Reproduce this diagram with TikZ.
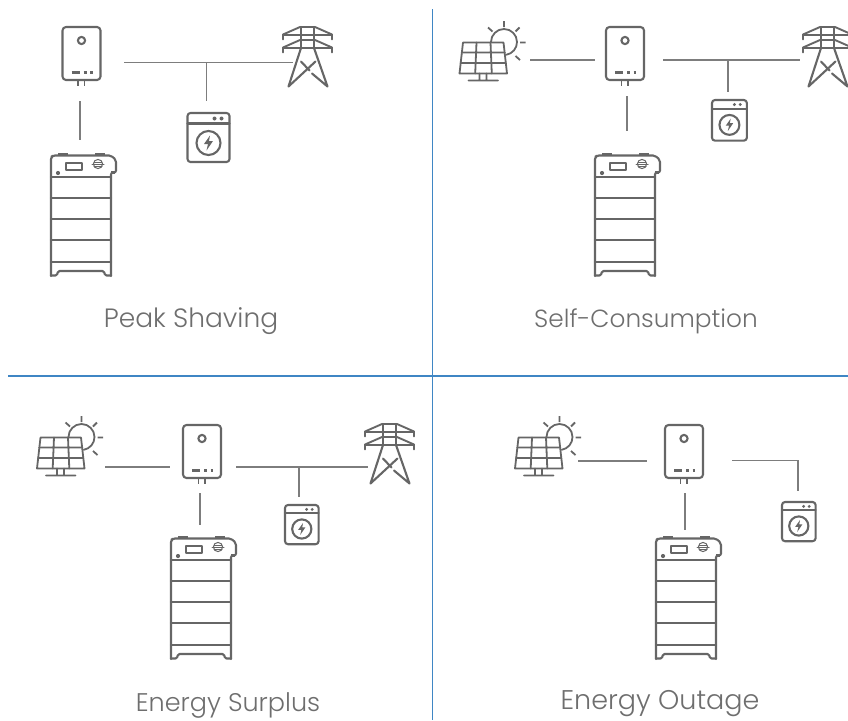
\documentclass[tikz,border=0pt]{standalone}
\usepackage{fontspec}
\setmainfont{Poppins Light}
\definecolor{ico}{HTML}{666666}
\definecolor{sep}{HTML}{3F86C4}
\definecolor{txt}{HTML}{6E6E6E}
\tikzset{
  x=1pt,y=-1pt,
  icon/.style={draw=ico,line width=2.1pt,line join=round,line cap=round},
  wire/.style={draw=ico!85,line width=1.2pt},
  divider/.style={draw=sep,line width=1.5pt},
  caption/.style={text=txt,inner sep=0pt},
  inverter/.pic={
    \draw[icon,rounded corners=3.5pt] (0,0) rectangle (38,53);
    \draw[icon] (19,13.5) circle (3.6);
    \draw[icon,line cap=butt,line width=2.3pt] (9,45.5) -- (17,45.5) (21,45.5) -- (24,45.5) (27.5,45.5) -- (30,45.5);
    \draw[icon,line cap=butt,line width=1.8pt] (15.5,53) -- (15.5,59) (22,53) -- (22,59);
  },
  battery/.pic={
    \draw[icon,rounded corners=2pt] (0,121) -- (0,2) -- (2,0.5) -- (60,0.5) -- (65,5) -- (65,17.5) -- (60,17.5) -- (60,121);
    \draw[icon,line width=3pt,line cap=butt] (7,-1) -- (17,-1) (44,-1) -- (54,-1);
    \draw[icon,line width=3pt,line cap=butt] (60,17.5) -- (64,17.5);
    \draw[icon] (0,21.7) -- (60,21.7) (0,43) -- (60,43) (0,64) -- (60,64) (0,85) -- (60,85) (0,106.7) -- (60,106.7);
    \draw[icon,rounded corners=1.5pt] (0,120.5) -- (6,120.5) -- (7,116) -- (53,116) -- (54,120.5) -- (60,120.5);
    \draw[icon,line width=1.8pt] (15,8) rectangle (31,15);
    \fill[ico] (7,18) circle (2.1);
    \draw[icon,line width=1pt] (47,9) circle (4.6);
    \draw[icon,line width=1pt] (41,9) -- (53,9) (43,7) -- (51,7) (43,11) -- (51,11);
  },
  washer/.pic={
    \draw[icon,rounded corners=3pt] (0,0) rectangle (42,49);
    \draw[icon] (0,10.5) -- (42,10.5);
    \fill[ico] (27,5.5) circle (2) (34,5.5) circle (2);
    \draw[icon] (21,30) circle (12);
    \fill[ico] (22.5,22.5) -- (16.5,31) -- (20.5,31) -- (19,37.5) -- (25.5,28) -- (21.5,28) -- cycle;
  },
  tower/.pic={
    \draw[icon,line width=1.9pt] (1,13) -- (1,8) -- (18,0.5) -- (33,0.5) -- (50,8) -- (50,13) (1,8.5) -- (50,8.5)
      (1,26) -- (1,21) -- (18,13.5) -- (33,13.5) -- (50,21) -- (50,26) (1,21.5) -- (50,21.5);
    \draw[icon] (19,0.5) -- (19,21.5) (32,0.5) -- (32,21.5);
    \draw[icon] (19,21.5) -- (6.5,60) -- (33.5,35) (32,21.5) -- (45.5,60) -- (30,47) (19,35) -- (27.5,44);
  },
  solar/.pic={
    \draw[icon,line width=1.8pt] (3.5,0) -- (44,0) -- (47.5,31) -- (0,31) -- cycle;
    \draw[icon,line width=1.8pt] (2.2,10) -- (45.2,10) (1,20.5) -- (46.3,20.5)
      (17,0) -- (15.7,31) (31,0) -- (32.3,31)
      (20,31) -- (20,37.5) (27,31) -- (27,37.5) (9,38) -- (38.5,38);
    \draw[icon,line width=1.8pt] (31.5,-0.5) arc[start angle=180,end angle=440,radius=13];
    \draw[icon,line width=1.8pt,line cap=butt] (44.5,-21.5) -- (44.5,-15.5) (28.5,-15) -- (33,-11) (60,-15) -- (56,-11) (60.5,0) -- (66,0) (56,13.5) -- (60.5,17.5);
  }
}
\begin{document}
\begin{tikzpicture}
\useasboundingbox (0,0) rectangle (848,720);
\clip (0,0) rectangle (848,720);
% dividers
\coordinate (vT) at (432.5,9); \coordinate (vB) at (432.5,720);
\coordinate (hL) at (8,376); \coordinate (hR) at (848,376);
\draw[divider] (vT) -- (vB);
\draw[divider] (hL) -- (hR);
% Peak Shaving
\pic at (62.5,27) {inverter};
\pic at (51,155) {battery};
\pic at (187.5,113) {washer};
\pic at (282,26.5) {tower};
\node[caption,font=\fontsize{26.5}{30}\selectfont] (capA) at (191,321) {Peak Shaving};
\coordinate (a1) at (80,101); \coordinate (a2) at (80,140);
\coordinate (a3) at (124,62.5); \coordinate (a4) at (293,62.5);
\coordinate (a5) at (206.5,62.5); \coordinate (a6) at (206.5,101);
\draw[wire] (a1) -- (a2);
\draw[wire] (a3) -- (a4);
\draw[wire] (a5) -- (a6);
% Self-Consumption
\pic at (459.5,42.5) {solar};
\pic at (606,27) {inverter};
\pic at (595,155) {battery};
\pic[scale=.83] at (712,100) {washer};
\pic at (802,26.5) {tower};
\node[caption,font=\fontsize{24.8}{30}\selectfont] (capB) at (646,321) {Self-Consumption};
\coordinate (b1) at (530,60); \coordinate (b2) at (595,60);
\coordinate (b3) at (627,96); \coordinate (b4) at (627,131);
\coordinate (b5) at (663,60); \coordinate (b6) at (800,60);
\coordinate (b7) at (728,60); \coordinate (b8) at (728,92);
\draw[wire] (b1) -- (b2);
\draw[wire] (b3) -- (b4);
\draw[wire] (b5) -- (b6);
\draw[wire] (b7) -- (b8);
% Energy Surplus
\pic at (37,437.5) {solar};
\pic at (183,425) {inverter};
\pic at (171,538) {battery};
\pic[scale=.8] at (285,505) {washer};
\pic at (364,423.5) {tower};
\node[caption,font=\fontsize{25.5}{30}\selectfont] (capC) at (228,705) {Energy Surplus};
\coordinate (c1) at (105,467); \coordinate (c2) at (170,467);
\coordinate (c3) at (200,493); \coordinate (c4) at (200,525);
\coordinate (c5) at (236,467); \coordinate (c6) at (368,467);
\coordinate (c7) at (299,467); \coordinate (c8) at (299,497);
\draw[wire] (c1) -- (c2);
\draw[wire] (c3) -- (c4);
\draw[wire] (c5) -- (c6);
\draw[wire] (c7) -- (c8);
% Energy Outage
\pic at (515,437.5) {solar};
\pic at (665,425) {inverter};
\pic at (656,538) {battery};
\pic[scale=.8] at (782,502) {washer};
\node[caption,font=\fontsize{27}{30}\selectfont] (capD) at (660,704) {Energy Outage};
\coordinate (d1) at (578,461); \coordinate (d2) at (647,461);
\coordinate (d3) at (685,493); \coordinate (d4) at (685,530);
\coordinate (d5) at (732,460.5); \coordinate (d6) at (798,491);
\draw[wire] (d1) -- (d2);
\draw[wire] (d3) -- (d4);
\draw[wire] (d5) -| (d6);
\end{tikzpicture}
\end{document}
